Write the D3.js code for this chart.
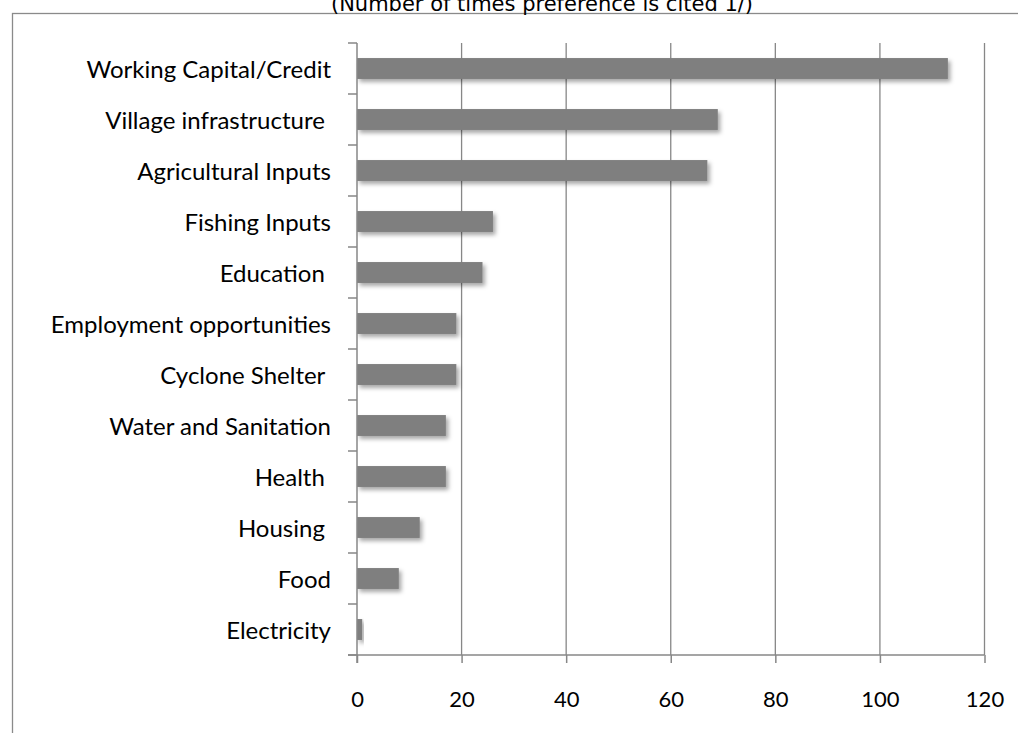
<!DOCTYPE html>
<html>
<head>
<meta charset="utf-8">
<script src="https://d3js.org/d3.v7.min.js"></script>
<style>
  body { margin: 0; background: #fff; }
  svg { display: block; }
  .cat text, .xax text { font-family: Lato, "Open Sans", sans-serif; fill: #000; }
</style>
</head>
<body>
<svg id="chart" width="1018" height="733"></svg>
<script>
// data (top to bottom as in the chart)
const categories = ["Working Capital/Credit", "Village infrastructure ", "Agricultural Inputs",
  "Fishing Inputs", "Education ", "Employment opportunities", "Cyclone Shelter ",
  "Water and Sanitation", "Health ", "Housing ", "Food", "Electricity"];
const counts = [113, 69, 67, 26, 24, 19, 19, 17, 17, 12, 8, 1];
const xTicks = [0, 20, 40, 60, 80, 100, 120];
const title = "(Number of times preference is cited 1/)";

const svg = d3.select("#chart");
const plotLeft = 357, plotRight = 984.5, plotTop = 43, plotBottom = 655;
const axisColor = "#878787";

// outer frame
svg.append("rect")
  .attr("x", 12.5).attr("y", 13.5)
  .attr("width", 1030).attr("height", 740)
  .attr("fill", "none").attr("stroke", "#8a8a8a").attr("stroke-width", 1.3);

// title (partly cut at the top, as in the source)
svg.append("text")
  .attr("x", 542).attr("y", 11)
  .attr("text-anchor", "middle")
  .style("font-family", "'DejaVu Sans', Verdana, sans-serif")
  .style("font-size", "21px")
  .text(title);

const x = d3.scaleLinear().domain([0, 120]).range([plotLeft, plotRight]);
const y = d3.scaleBand().domain(categories).range([plotTop, plotBottom])
  .paddingInner(0.59).paddingOuter(0.295);

// shadow for bars
const defs = svg.append("defs");
defs.append("filter").attr("id", "shadow")
  .attr("x", "-10%").attr("y", "-30%").attr("width", "130%").attr("height", "180%")
  .append("feDropShadow")
  .attr("dx", 2.5).attr("dy", 3).attr("stdDeviation", 2)
  .attr("flood-color", "#000").attr("flood-opacity", 0.35);

// vertical gridlines
svg.append("g").selectAll("line")
  .data(xTicks.slice(1))
  .enter().append("line")
  .attr("x1", d => x(d)).attr("x2", d => x(d))
  .attr("y1", plotTop).attr("y2", plotBottom)
  .attr("stroke", axisColor).attr("stroke-width", 1.3);

// bars
svg.append("g").selectAll("rect")
  .data(counts)
  .enter().append("rect")
  .attr("x", x(0))
  .attr("y", (d, i) => y(categories[i]))
  .attr("width", d => x(d) - x(0))
  .attr("height", y.bandwidth())
  .attr("fill", "#7f7f7f")
  .attr("filter", "url(#shadow)");

// x axis
const xAxis = svg.append("g")
  .attr("class", "xax")
  .attr("transform", "translate(0," + plotBottom + ")")
  .call(d3.axisBottom(x).tickValues(xTicks).tickSize(8).tickSizeOuter(0));
xAxis.select(".domain").remove();
xAxis.append("line")
  .attr("x1", plotLeft - 9).attr("x2", plotRight)
  .attr("stroke", axisColor).attr("stroke-width", 1.5);
xAxis.selectAll(".tick line").attr("stroke", axisColor).attr("stroke-width", 1.5);
xAxis.selectAll(".tick text")
  .attr("y", 52).attr("dy", 0)
  .style("font-size", "22px");

// y axis: labels at band centres, ticks at band boundaries
const yAxis = svg.append("g")
  .attr("class", "cat")
  .attr("transform", "translate(" + plotLeft + ",0)")
  .call(d3.axisLeft(y).tickSize(0).tickPadding(26));
yAxis.select(".domain").remove();
yAxis.selectAll(".tick text")
  .attr("dy", "0.38em")
  .attr("xml:space", "preserve")
  .style("white-space", "pre")
  .style("font-size", "24px");
yAxis.append("line")
  .attr("y1", plotTop).attr("y2", plotBottom + 8)
  .attr("stroke", axisColor).attr("stroke-width", 1.5);
yAxis.append("g").selectAll("line")
  .data(d3.range(categories.length + 1))
  .enter().append("line")
  .attr("x1", -9).attr("x2", 0)
  .attr("y1", i => plotTop + i * y.step()).attr("y2", i => plotTop + i * y.step())
  .attr("stroke", axisColor).attr("stroke-width", 1.5);
</script>
</body>
</html>
